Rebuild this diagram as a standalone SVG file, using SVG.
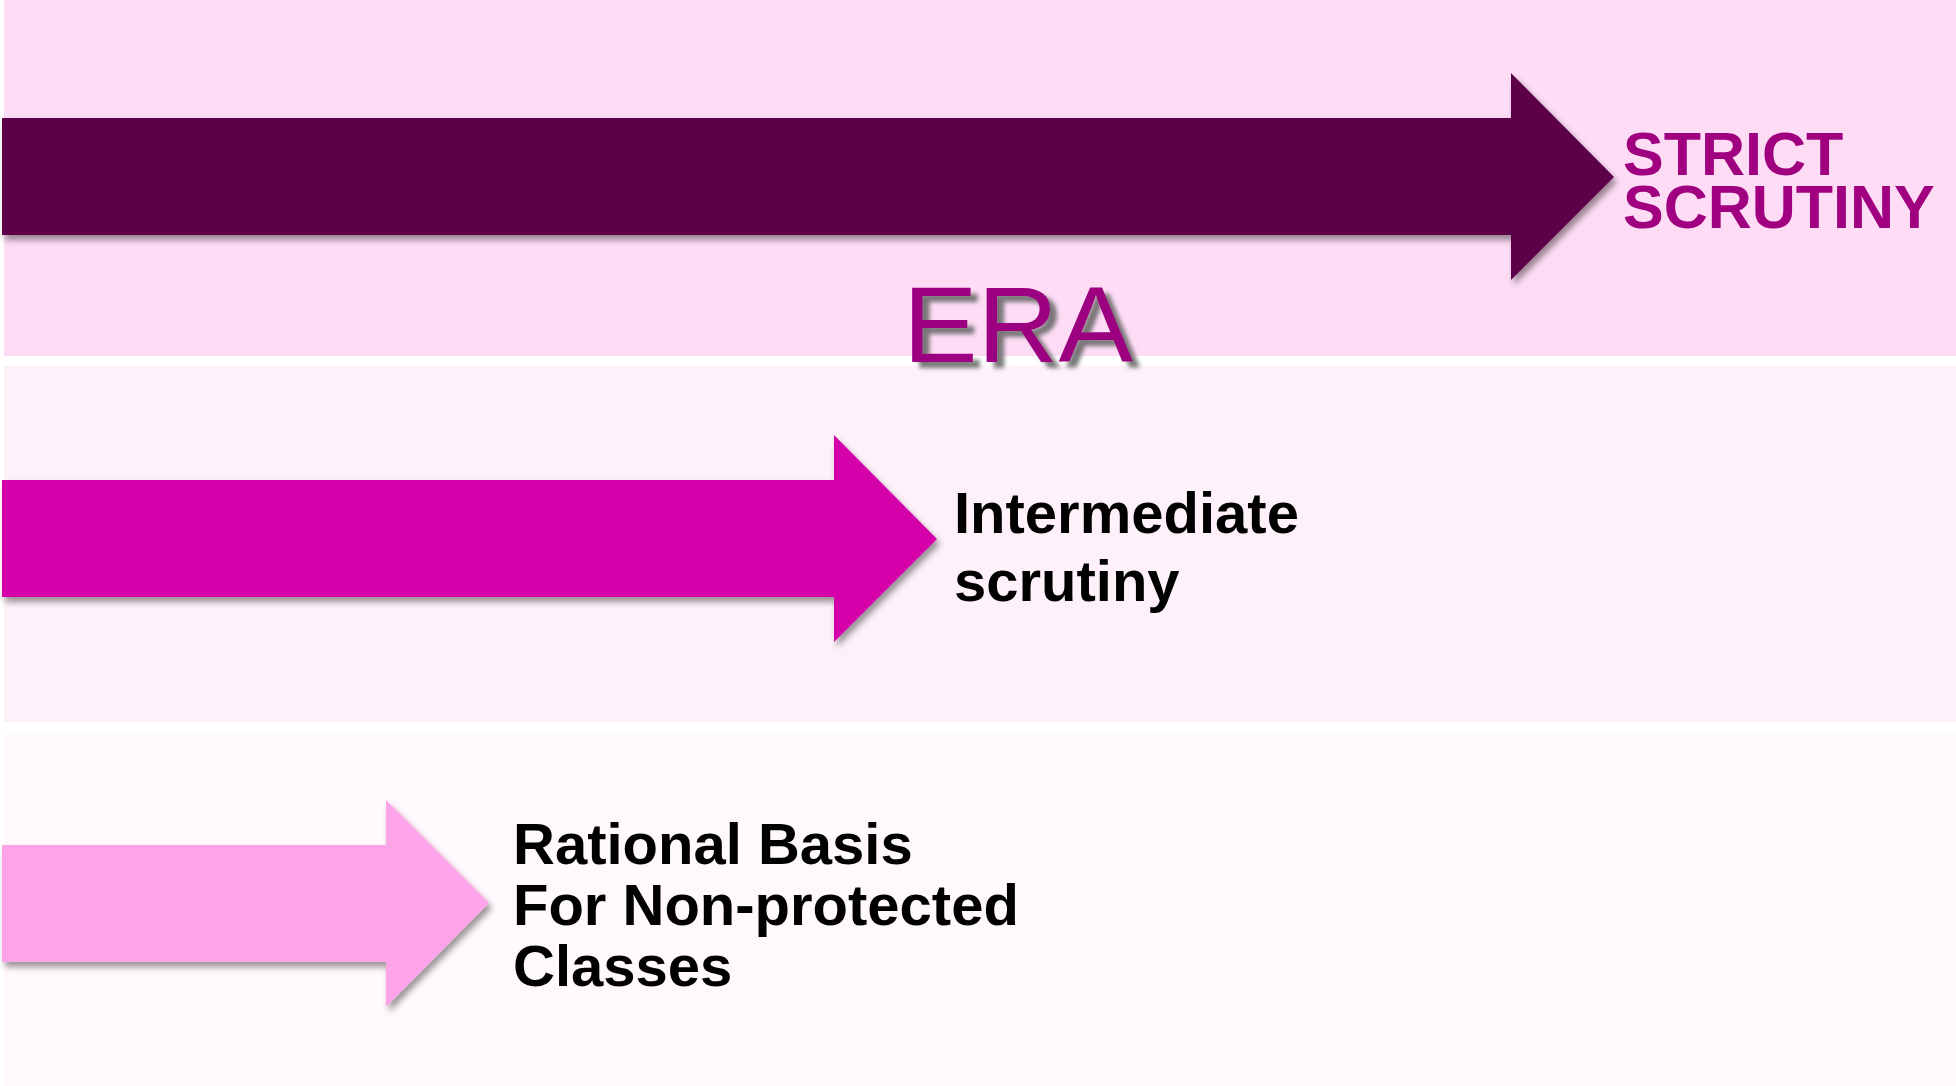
<svg xmlns="http://www.w3.org/2000/svg" width="1956" height="1086" viewBox="0 0 1956 1086">
  <defs>
    <filter id="arrowShadow" x="-5%" y="-20%" width="110%" height="150%">
      <feDropShadow dx="3" dy="5" stdDeviation="3" flood-color="#000" flood-opacity="0.4"/>
    </filter>
    <filter id="titleShadow" x="-10%" y="-20%" width="130%" height="150%">
      <feGaussianBlur in="SourceAlpha" stdDeviation="2" result="b"/>
      <feOffset in="b" dx="7" dy="6" result="o"/>
      <feFlood flood-color="#6a6a6a" flood-opacity="0.9"/>
      <feComposite in2="o" operator="in" result="s"/>
      <feMerge>
        <feMergeNode in="s"/>
        <feMergeNode in="SourceGraphic"/>
      </feMerge>
    </filter>
  </defs>
  <style>
    .label { font-family: "Liberation Sans", Arial, sans-serif; font-weight: bold; fill: #000; font-size: 58px; }
    .strict { font-family: "Liberation Sans", Arial, sans-serif; font-weight: bold; fill: #a0007f; font-size: 61px; }
    .era { font-family: "Liberation Sans", Arial, sans-serif; fill: #9c0080; font-size: 108px; }
    .arrow { filter: url(#arrowShadow); }
  </style>

  <rect width="1956" height="1086" fill="#ffffff"/>

  <!-- background bands -->
  <g id="bands">
    <rect x="4" y="0" width="1952" height="356" fill="#fedcf6"/>
    <rect x="4" y="366" width="1952" height="356" fill="#fff1fa"/>
    <rect x="4" y="733" width="1952" height="353" fill="#fff8fd"/>
  </g>

  <!-- block arrows -->
  <g id="connectors">
    <polygon class="arrow" fill="#5c0049" points="2,118 1511,118 1511,73 1614,177 1511,280 1511,235 2,235"/>
    <polygon class="arrow" fill="#d400aa" points="2,480 834,480 834,435 937,539 834,642 834,597 2,597"/>
    <polygon class="arrow" fill="#fda3e8" points="2,845 386,845 386,800 489,903 386,1007 386,962 2,962"/>
  </g>

  <g id="node-strict">
    <text class="strict" x="1623" y="175">STRICT<tspan x="1623" dy="53">SCRUTINY</tspan></text>
  </g>

  <g id="node-era">
    <text class="era" x="903" y="362" textLength="230" lengthAdjust="spacingAndGlyphs" filter="url(#titleShadow)">ERA</text>
  </g>

  <g id="node-intermediate">
    <text class="label" x="954" y="533">Intermediate<tspan x="954" dy="68">scrutiny</tspan></text>
  </g>

  <g id="node-rational">
    <text class="label" x="513" y="864">Rational Basis<tspan x="513" dy="61">For Non-protected</tspan><tspan x="513" dy="61">Classes</tspan></text>
  </g>
</svg>
